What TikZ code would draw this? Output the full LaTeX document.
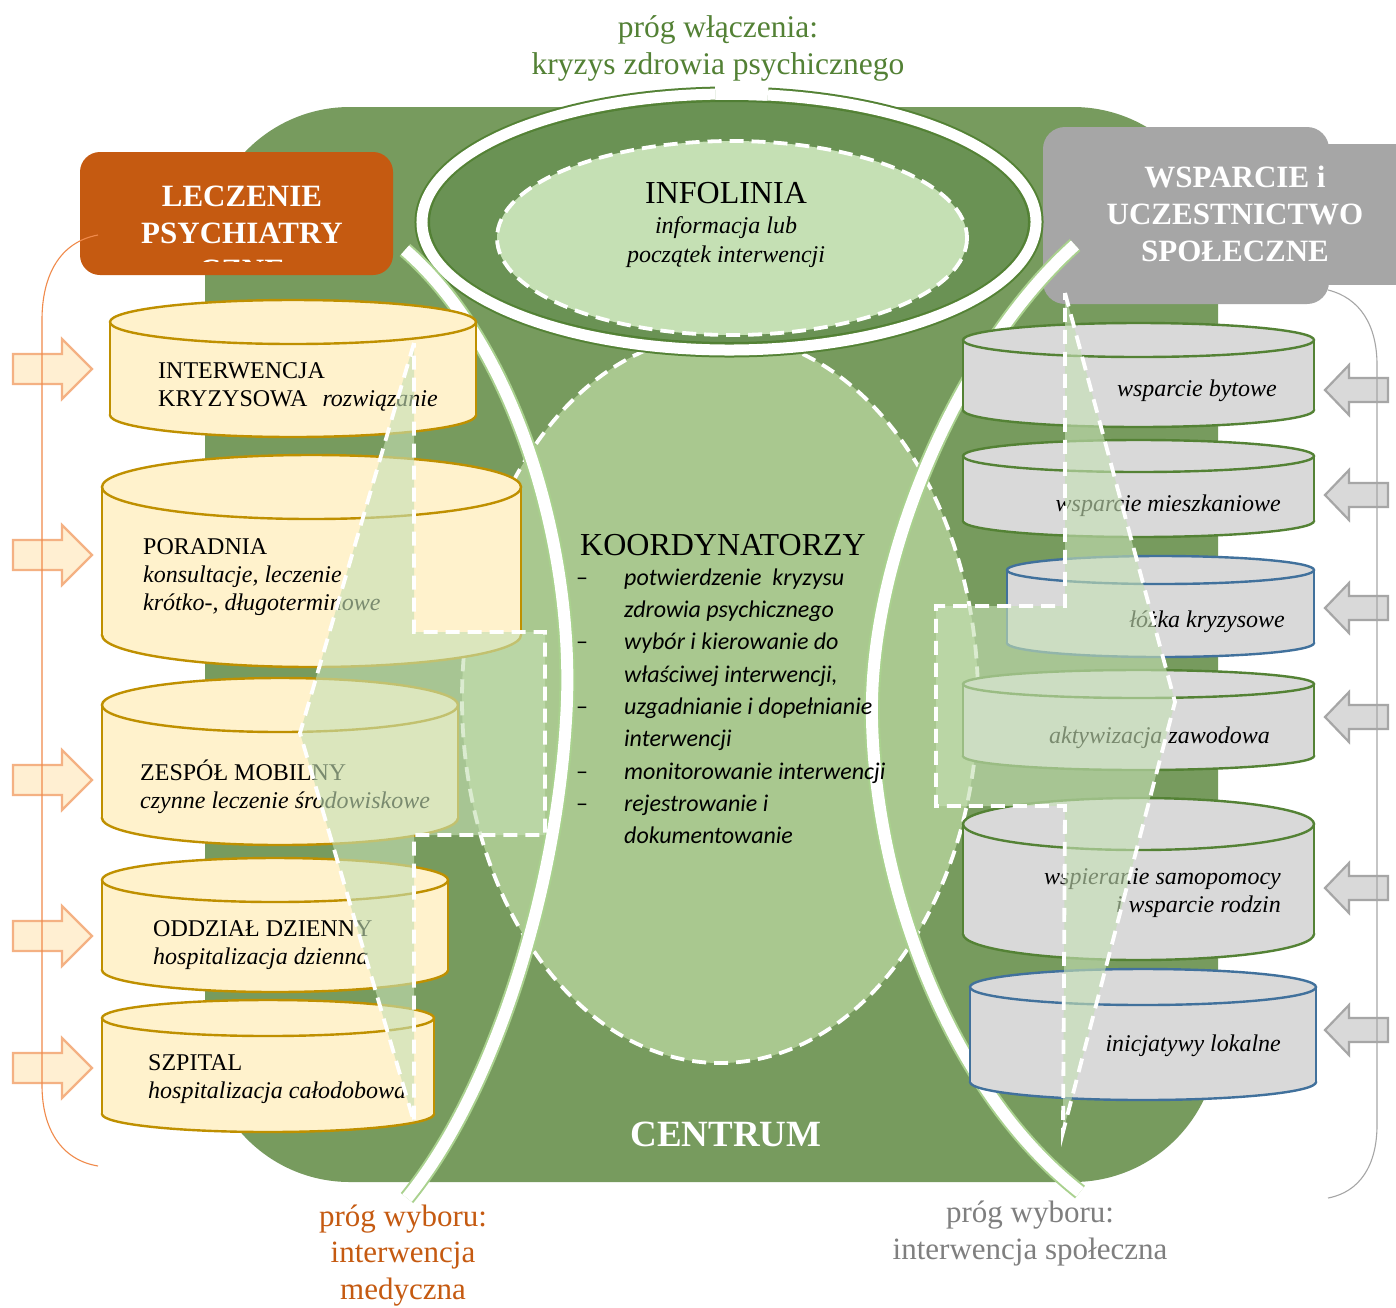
\documentclass[tikz,border=0pt]{standalone}
\usepackage{fontspec}
\setmainfont{Liberation Serif}
\newfontfamily\calibrifont{Carlito}

\definecolor{centrumgreen}{HTML}{779B5E}
\definecolor{infodark}{HTML}{6A9254}
\definecolor{infoedge}{HTML}{507E34}
\definecolor{palegreen}{HTML}{C5E0B4}
\definecolor{koordgreen}{HTML}{A9C88F}
\definecolor{bandedge}{HTML}{A9D18E}
\definecolor{medorange}{HTML}{C55A11}
\definecolor{socgray}{HTML}{A6A6A6}
\definecolor{cylcream}{HTML}{FFF2CC}
\definecolor{cylgold}{HTML}{BF9000}
\definecolor{cylgray}{HTML}{D9D9D9}
\definecolor{cylgreen}{HTML}{548235}
\definecolor{cylblue}{HTML}{41719C}
\definecolor{arrowcream}{HTML}{FFEFD2}
\definecolor{arrowpeach}{HTML}{F4B183}
\definecolor{titlegreen}{HTML}{538135}
\definecolor{textgray}{HTML}{7F7F7F}
\definecolor{braceorange}{HTML}{F08A4B}

% cylinder: x1, x2, y of top ellipse, y of bottom ellipse, half height, fill, edge
\newcommand\cylinderdraw[7]{%
  \pgfmathsetmacro\cylcx{(#1+#2)/2}%
  \pgfmathsetmacro\cylrx{(#2-#1)/2}%
  \filldraw[fill=#6,draw=#7,line width=2.4] (\cylcx,#4) ellipse [x radius=\cylrx, y radius=#5];
  \fill[#6] (#1,#3) rectangle (#2,#4);
  \draw[#7,line width=2.4] (#1,#3) -- (#1,#4) (#2,#3) -- (#2,#4);
  \filldraw[fill=#6,draw=#7,line width=2.4] (\cylcx,#3) ellipse [x radius=\cylrx, y radius=#5];
}
% block arrows
\newcommand\medarrowat[1]{\filldraw[medarrow] (13,#1-15) -- (62,#1-15) -- (62,#1-30) -- (92,#1) -- (62,#1+30) -- (62,#1+15) -- (13,#1+15) -- cycle;}
\newcommand\socarrowat[1]{\filldraw[socarrow] (1325,#1) -- (1349,#1-25) -- (1349,#1-12) -- (1388,#1-12) -- (1388,#1+12) -- (1349,#1+12) -- (1349,#1+25) -- cycle;}

\begin{document}
\begin{tikzpicture}[x=1pt,y=-1pt,
  fsrm/.style={font=\fontsize{#1}{#1}\selectfont},
  fsit/.style={font=\fontsize{#1}{#1}\selectfont\itshape},
  fsbf/.style={font=\fontsize{#1}{#1}\selectfont\bfseries},
  txt/.style={inner sep=0pt},
  whitedash/.style={draw=white, line width=3.8, dash pattern=on 14pt off 8pt},
  bandline/.style={draw=white, line width=12, preaction={draw=bandedge, line width=16}},
  ringband/.style={draw=white, line width=11, preaction={draw=cylgreen, line width=15}},
  kitefill/.style={fill=palegreen, fill opacity=0.62},
  medarrow/.style={fill=arrowcream, draw=arrowpeach, line width=2.2},
  socarrow/.style={fill=cylgray, draw=socgray, line width=2.2},
]
\useasboundingbox (0,0) rectangle (1396,1307);
\fill[white] (0,0) rectangle (1396,1307);

% centre background
\fill[centrumgreen, rounded corners=145] (205,107) rectangle (1218,1182);

% coordinators' ellipse
\filldraw[fill=koordgreen, whitedash] (720,699) ellipse [x radius=258, y radius=364];

% help line ellipses
\filldraw[fill=infodark, draw=infoedge, line width=2] (729,222) ellipse [x radius=300, y radius=121];
\filldraw[fill=palegreen, whitedash] (732,238) ellipse [x radius=235, y radius=97];

% header boxes
\fill[medorange, rounded corners=20] (80,152) rectangle (393,275);
\fill[socgray] (1320,144) rectangle (1396,285);
\fill[socgray, rounded corners=22] (1043,127) rectangle (1329,304);

% entry ring and choice bands
\draw[ringband] (729,222) ++(277.3:307 and 128) arc[start angle=277.3, end angle=627.4, x radius=307, y radius=128];
\draw[bandline] (405,250) .. controls (520,350) and (577,560) .. (566,720) .. controls (556,890) and (495,1090) .. (407,1198);
\draw[bandline] (1075,245) .. controls (958,350) and (868,560) .. (872,720) .. controls (876,890) and (950,1090) .. (1080,1192);

% medical cylinders
\cylinderdraw{110}{476}{322}{415}{22}{cylcream}{cylgold}
\cylinderdraw{102}{521}{487}{635}{32}{cylcream}{cylgold}
\cylinderdraw{102}{458}{705}{818}{27}{cylcream}{cylgold}
\cylinderdraw{102}{448}{880}{970}{22}{cylcream}{cylgold}
\cylinderdraw{102}{434}{1018}{1114}{18}{cylcream}{cylgold}

% social cylinders
\cylinderdraw{963}{1314}{340}{410}{17}{cylgray}{cylgreen}
\cylinderdraw{963}{1314}{456}{521}{16}{cylgray}{cylgreen}
\cylinderdraw{1007}{1314}{570}{643}{14}{cylgray}{cylblue}
\cylinderdraw{963}{1314}{684}{756}{14}{cylgray}{cylgreen}
\cylinderdraw{963}{1314}{824}{934}{26}{cylgray}{cylgreen}
\cylinderdraw{970}{1316}{987}{1082}{18}{cylgray}{cylblue}

% cylinder labels
\begin{scope}[every node/.style={txt, anchor=base west, fsrm=24}]
\node (c1a) at (158,378) {INTERWENCJA};
\node (c1b) at (158,406) {KRYZYSOWA\hspace{15pt}\textit{rozwiązanie}};
\node (c2a) at (143,554) {PORADNIA};
\node (c2b) at (143,582) {\textit{konsultacje, leczenie}};
\node (c2c) at (143,610) {\textit{krótko-, długoterminowe}};
\node (c3a) at (140,780) {ZESPÓŁ MOBILNY};
\node (c3b) at (140,808) {\textit{czynne leczenie środowiskowe}};
\node (c4a) at (153,936) {ODDZIAŁ DZIENNY};
\node (c4b) at (153,964) {\textit{hospitalizacja dzienna}};
\node (c5a) at (148,1070) {SZPITAL};
\node (c5b) at (148,1098) {\textit{hospitalizacja całodobowa}};
\end{scope}
\begin{scope}[every node/.style={txt, anchor=base east, fsit=24}]
\node (r1) at (1277,396) {wsparcie bytowe};
\node (r2) at (1281,511) {wsparcie mieszkaniowe};
\node (r3) at (1285,627) {łóżka kryzysowe};
\node (r4) at (1270,743) {aktywizacja zawodowa};
\node (r5a) at (1281,884) {wspieranie samopomocy};
\node (r5b) at (1281,912) {i wsparcie rodzin};
\node (r6) at (1281,1051) {inicjatywy lokalne};
\end{scope}

% coordinators' text
\node[txt, anchor=base, fsrm=32] (koord) at (723,555) {KOORDYNATORZY};
\node[txt, anchor=north west, font=\calibrifont\itshape\fontsize{24}{32.3}\selectfont] (koordlist) at (576,562.4)
 {\begin{tabular}{@{}p{48pt}@{}l@{}}
 \upshape – & potwierdzenie\ \ kryzysu\\
  & zdrowia psychicznego\\
 \upshape – & wybór i kierowanie do\\
  & właściwej interwencji,\\
 \upshape – & uzgadnianie i dopełnianie\\
  & interwencji\\
 \upshape – & monitorowanie interwencji\\
 \upshape – & rejestrowanie i\\
  & dokumentowanie
 \end{tabular}};

% selection funnels
\fill[kitefill] (414,343) -- (300,733) -- (414,1122) -- (414,835) -- (545,835) -- (545,632) -- (414,632) -- cycle;
\draw[whitedash] (414,343) -- (300,733) -- (414,1122) -- (414,835) -- (545,835) -- (545,632) -- (414,632) -- cycle;
\fill[kitefill] (1065,293) -- (1175,702) -- (1063,1132) -- (1065,806) -- (936,806) -- (936,606) -- (1065,606) -- cycle;
\draw[whitedash] (1065,293) -- (1175,702) -- (1063,1132) -- (1065,806) -- (936,806) -- (936,606) -- (1065,606) -- cycle;

% input arrows
\medarrowat{369}
\medarrowat{555}
\medarrowat{780}
\medarrowat{936}
\medarrowat{1068}
\socarrowat{390}
\socarrowat{495}
\socarrowat{608}
\socarrowat{717}
\socarrowat{888}
\socarrowat{1030}

% side brackets
\draw[braceorange, line width=1.1] (98,235) .. controls (60,242) and (42,275) .. (42,320) -- (42,1085) .. controls (42,1130) and (62,1160) .. (98,1166);
\draw[socgray, line width=1.1] (1328,290) .. controls (1360,298) and (1377,325) .. (1377,365) -- (1377,1125) .. controls (1377,1165) and (1360,1192) .. (1328,1198);

% help line text
\node[txt, anchor=base, fsrm=32] (info) at (726,203) {INFOLINIA};
\node[txt, anchor=base, fsit=24] (info2) at (726,233) {informacja lub};
\node[txt, anchor=base, fsit=24] (info3) at (726,262) {początek interwencji};

% header texts
\begin{scope}[every node/.style={txt, anchor=base, text=white, fsbf=31}]
\node (lecz1) at (242,206) {LECZENIE};
\node (lecz2) at (242,243) {PSYCHIATRY};
\node (wsp1) at (1235,187) {WSPARCIE i};
\node (wsp2) at (1235,224) {UCZESTNICTWO};
\node (wsp3) at (1235,261) {SPOŁECZNE};
\end{scope}
\begin{scope}
\clip (80,150) rectangle (393,261);
\node[txt, anchor=base, text=white, fsbf=31] (lecz3) at (242,280) {CZNE};
\end{scope}
\node[txt, anchor=base, text=white, fsbf=37] (centrum) at (726,1146) {CENTRUM};

% threshold labels
\node[txt, anchor=base, text=titlegreen, fsrm=31.5] (th1) at (718,37) {próg włączenia:};
\node[txt, anchor=base, text=titlegreen, fsrm=31.5] (th2) at (718,74) {kryzys zdrowia psychicznego};
\node[txt, anchor=base, text=medorange, fsrm=31] (md1) at (403,1226) {próg wyboru:};
\node[txt, anchor=base, text=medorange, fsrm=31] (md2) at (403,1262) {interwencja};
\node[txt, anchor=base, text=medorange, fsrm=31] (md3) at (403,1299) {medyczna};
\node[txt, anchor=base, text=textgray, fsrm=31] (sc1) at (1030,1222) {próg wyboru:};
\node[txt, anchor=base, text=textgray, fsrm=31] (sc2) at (1030,1259) {interwencja społeczna};
\end{tikzpicture}
\end{document}
